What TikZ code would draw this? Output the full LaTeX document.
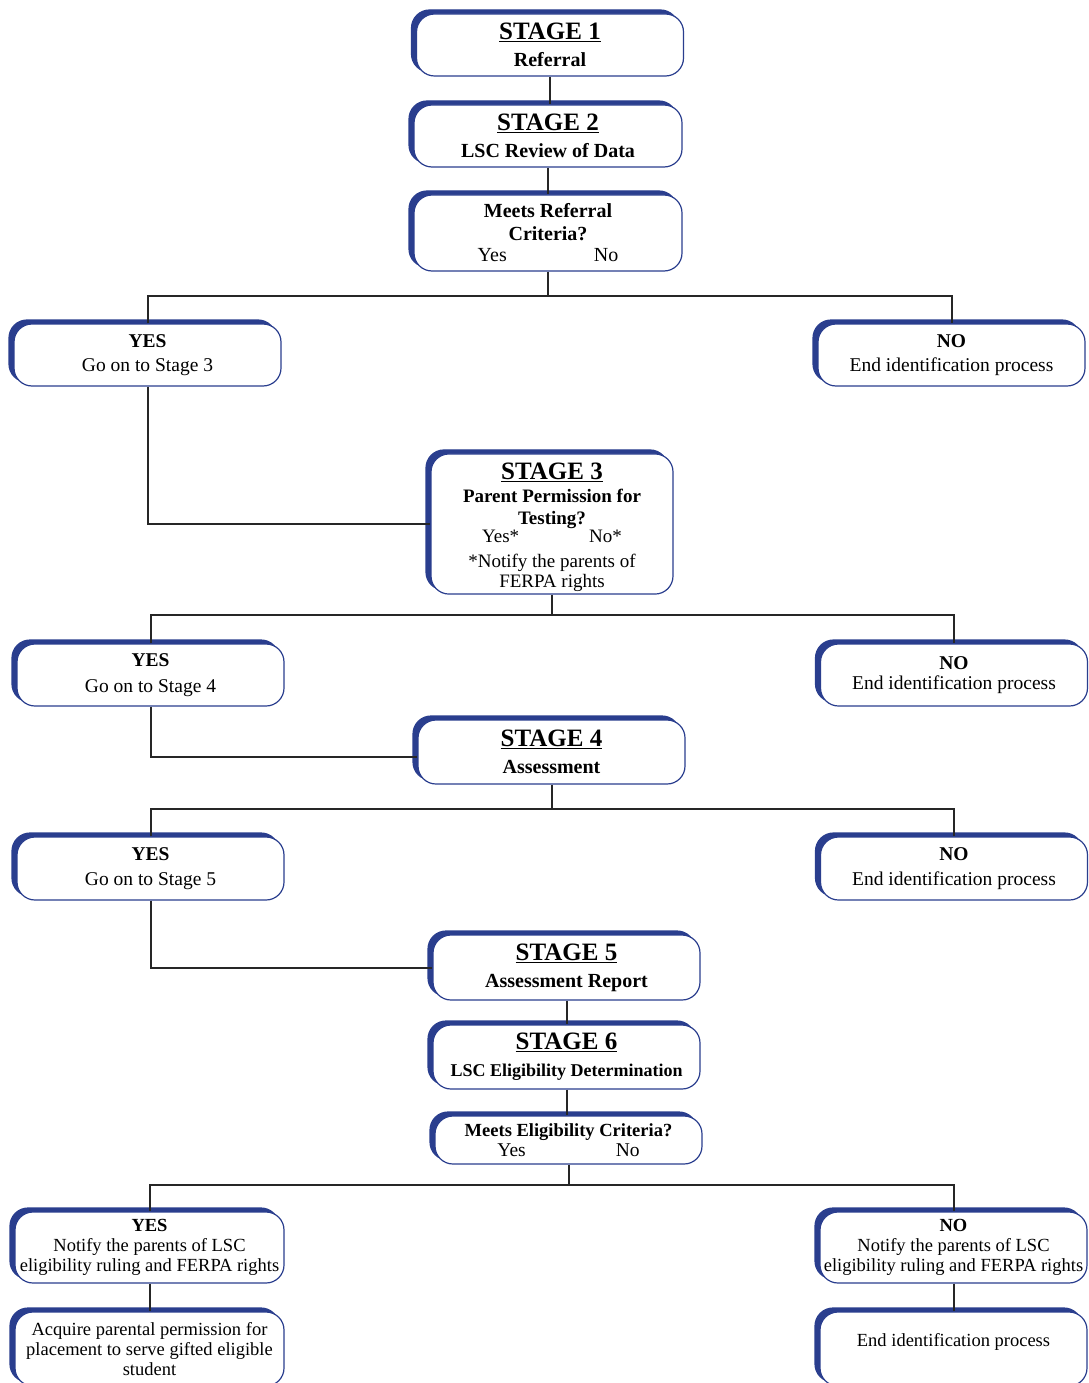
\documentclass[tikz,border=0pt]{standalone}
\usepackage{fontspec}
\setmainfont{Liberation Serif}
\usepackage{tikz}
\usetikzlibrary{shadows, calc}
\definecolor{boxBlue}{RGB}{42,62,142}
\tikzset{
	flowBox/.style={draw=boxBlue, line width=1.2pt, fill=white, rounded corners=18pt,
		minimum width=267pt, minimum height=62pt, align=center, inner sep=2pt,
		font=\fontsize{19.5}{20.5}\selectfont,
		copy shadow={shadow xshift=-5pt, shadow yshift=4pt, fill=boxBlue, draw=boxBlue}},
	smallBox/.style={flowBox, font=\fontsize{18.5}{20}\selectfont},
	stageBox/.style={flowBox, font=\fontsize{20}{21}\selectfont\bfseries},
	flowLine/.style={draw=black!85, line width=2pt},
}
\newcommand{\stageTitle}[1]{{\fontsize{25}{28}\selectfont\underline{#1}}}

\begin{document}
\begin{tikzpicture}[x=1pt, y=-1pt]
\useasboundingbox (0,0) rectangle (1088,1383);

% Draw stage boxes
\node[stageBox] (s1) at (550,45) {\stageTitle{STAGE 1}\\[6pt]Referral};
\node[stageBox, minimum width=268pt] (s2) at (548,136) {\stageTitle{STAGE 2}\\[6pt]LSC Review of Data};
\node[stageBox, minimum width=268pt, minimum height=76pt] (crit1) at (548,233)
	{Meets Referral\\[2pt]Criteria?\\\textmd{Yes\hspace{87pt}No}};
\node[stageBox, font=\fontsize{19}{20}\selectfont\bfseries, minimum width=242pt, minimum height=139pt] (s3) at (552,524)
	{\rule{0pt}{24pt}\stageTitle{STAGE 3}\\[3pt]Parent Permission for\\[2pt]Testing?\\[-2pt]\textmd{Yes*\hspace{70pt}No*}\\[5pt]\textmd{*Notify the parents of}\\\textmd{FERPA rights}};
\node[stageBox, minimum height=64pt] (s4) at (551.5,752) {\stageTitle{STAGE 4}\\[6pt]Assessment};
\node[stageBox, minimum height=65pt] (s5) at (566.5,967.5) {\stageTitle{STAGE 5}\\[6pt]Assessment Report};
\node[stageBox, font=\fontsize{18}{20}\selectfont\bfseries, minimum height=64pt] (s6) at (566.5,1057)
	{\stageTitle{STAGE 6}\\[7pt]LSC Eligibility Determination};
\node[stageBox, font=\fontsize{18.5}{20}\selectfont\bfseries, minimum height=48pt] (crit2) at (568.5,1140)
	{Meets Eligibility Criteria?\\\textmd{\fontsize{19.5}{20}\selectfont Yes\hspace{90pt}No}};

% Draw yes/no boxes
\node[flowBox] (yes1) at (147.5,355) {\textbf{YES}\\[3pt]Go on to Stage 3};
\node[flowBox] (no1) at (951.5,355) {\textbf{NO}\\[3pt]End identification process};
\node[flowBox] (yes2) at (150.5,675) {\textbf{YES}\\[5pt]Go on to Stage 4};
\node[flowBox] (no2) at (954,675) {\textbf{NO}\\End identification process};
\node[flowBox, minimum height=63pt] (yes3) at (150.5,868.5) {\textbf{YES}\\[4pt]Go on to Stage 5};
\node[flowBox, minimum height=63pt] (no3) at (954,868.5) {\textbf{NO}\\[4pt]End identification process};
\node[smallBox, minimum width=269pt, minimum height=71pt] (yes4) at (149.5,1247.5)
	{\textbf{YES}\\Notify the parents of LSC\\eligibility ruling and FERPA rights};
\node[smallBox, minimum height=71pt] (no4) at (953.5,1247.5)
	{\textbf{NO}\\Notify the parents of LSC\\eligibility ruling and FERPA rights};
\node[smallBox, minimum width=269pt, minimum height=74pt] (acq) at (149.5,1349)
	{Acquire parental permission for\\placement to serve gifted eligible\\student};
\node[smallBox, minimum height=74pt, text depth=18pt] (end4) at (953.5,1349) {End identification process};

% Draw lines
\coordinate (bus1) at (548,296);
\coordinate (bus2) at (552,615);
\coordinate (bus3) at (551.5,809);
\coordinate (bus4) at (568.5,1185);
\draw[flowLine] (s1.south) -- (s1.south |- s2.north);
\draw[flowLine] (s2.south) -- (s2.south |- crit1.north);
\draw[flowLine] (crit1.south) -- (bus1);
\draw[flowLine] (yes1.north) |- (bus1) -| (no1.north);
\draw[flowLine] (yes1.south) |- (s3.west);
\draw[flowLine] (s3.south) -- (bus2);
\draw[flowLine] (yes2.north) |- (bus2) -| (no2.north);
\draw[flowLine] (yes2.south) |- ([yshift=-5pt]s4.west);
\draw[flowLine] (s4.south) -- (bus3);
\draw[flowLine] (yes3.north) |- (bus3) -| (no3.north);
\draw[flowLine] (yes3.south) |- (s5.west);
\draw[flowLine] (s5.south) -- (s5.south |- s6.north);
\draw[flowLine] (s6.south) -- (s6.south |- crit2.north);
\draw[flowLine] (crit2.south) -- (bus4);
\draw[flowLine] (yes4.north) |- (bus4) -| (no4.north);
\draw[flowLine] (yes4.south) -- (yes4.south |- acq.north);
\draw[flowLine] (no4.south) -- (no4.south |- end4.north);
\end{tikzpicture}
\end{document}
